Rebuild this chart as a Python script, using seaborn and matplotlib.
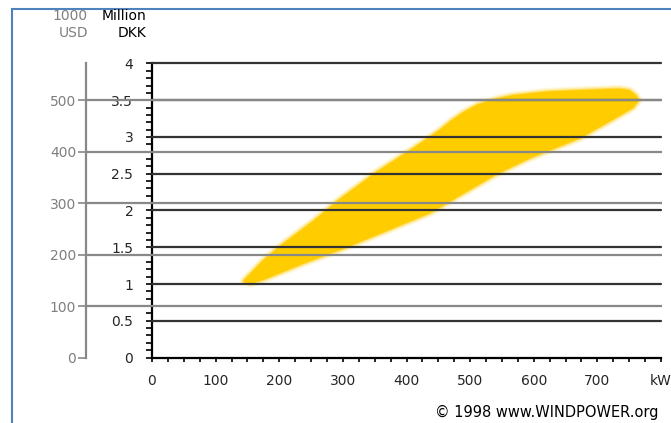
import numpy as np
import pandas as pd
import matplotlib
matplotlib.use("Agg")
import matplotlib.pyplot as plt
import seaborn as sns
from matplotlib.patches import Rectangle
from matplotlib.ticker import MultipleLocator

# outline of the price band (kW, million DKK)
kw_upper = [146, 175, 202, 228, 254, 274, 296, 354, 411, 440, 456, 470, 490, 511, 540, 567, 620, 672, 735, 750, 760]
dkk_upper = [1.04, 1.30, 1.50, 1.67, 1.84, 1.98, 2.14, 2.51, 2.83, 3.00, 3.10, 3.20, 3.32, 3.42, 3.50, 3.55, 3.60, 3.62, 3.64, 3.62, 3.55]
kw_lower = [763, 755, 719, 672, 594, 541, 436, 301, 236, 176, 155]
dkk_lower = [3.50, 3.41, 3.23, 3.00, 2.73, 2.51, 1.98, 1.50, 1.29, 1.08, 1.02]

# axes
kw_ticks = [0, 100, 200, 300, 400, 500, 600, 700, 800]
kw_labels = ["0", "100", "200", "300", "400", "500", "600", "700", "kW"]
dkk_ticks = [0, 0.5, 1, 1.5, 2, 2.5, 3, 3.5, 4]
dkk_labels = ["0", "0.5", "1", "1.5", "2", "2.5", "3", "3.5", "4"]
usd_ticks = [0, 100, 200, 300, 400, 500]
usd_per_dkk = 500 / 3.5   # 1000 USD per million DKK

YELLOW = "#FFCC00"
DARK = "#333333"
GREY = "#888888"
FS = 10

sns.set_style("white")
plt.rcParams["font.family"] = ["DejaVu Sans"]
plt.rcParams["font.size"] = FS

W, H = 671, 423
fig = plt.figure(figsize=(W / 100, H / 100), dpi=100)


def fx(px):
    return px / W


def fy(py):
    return 1 - py / H


bottom = fy(357.5)
height = fy(63.5) - bottom

# main axis: million DKK vs kW
ax = fig.add_axes([fx(152), bottom, fx(661) - fx(152), height])
ax.set_facecolor("none")
ax.set_xlim(0, 800)
ax.set_ylim(0, 4)

outline = pd.DataFrame({"kw": kw_upper + kw_lower, "dkk": dkk_upper + dkk_lower})
ax.fill(outline["kw"], outline["dkk"], color=YELLOW, lw=2, ec=YELLOW, zorder=2,
        joinstyle="round")
# soft edge
for lw, a in [(3.5, 0.45), (5.5, 0.25), (7.5, 0.12)]:
    sns.lineplot(data=outline, x="kw", y="dkk", sort=False, estimator=None, color=YELLOW,
                 lw=lw, alpha=a, ax=ax, zorder=1.9, solid_joinstyle="round",
                 solid_capstyle="round")

for v in dkk_ticks[1:]:
    ax.axhline(v, color=DARK, lw=1.6, zorder=3, clip_on=False)

ax.set_xticks(kw_ticks)
ax.set_xticklabels(kw_labels)
ax.set_yticks(dkk_ticks)
ax.set_yticklabels(dkk_labels)
ax.xaxis.set_minor_locator(MultipleLocator(25))
ax.yaxis.set_minor_locator(MultipleLocator(0.1))
ax.tick_params(axis="x", which="both", bottom=True, direction="out", length=3, width=1.2,
               color="black", pad=9, labelsize=FS)
ax.tick_params(axis="y", which="both", left=True, direction="out", length=4.5, width=1.2,
               color="black", pad=9, labelsize=FS)
for s in ["top", "right"]:
    ax.spines[s].set_visible(False)
for s in ["left", "bottom"]:
    ax.spines[s].set_color("black")
    ax.spines[s].set_linewidth(1.6)
ax.set_xlabel("")
ax.set_ylabel("")

# outer axis: 1000 USD, grey lines drawn across the plot
ax2 = fig.add_axes([fx(86), bottom, fx(662) - fx(86), height], zorder=2)
ax2.patch.set_visible(False)
ax2.set_xlim(0, 1)
ax2.set_ylim(0, 4 * usd_per_dkk)
for v in usd_ticks[1:]:
    ax2.axhline(v, color=GREY, lw=1.6)
ax2.set_yticks(usd_ticks)
ax2.set_xticks([])
ax2.tick_params(axis="y", left=True, direction="out", length=6, width=1.2, color=GREY,
                labelcolor="#7f7f7f", pad=1, labelsize=FS)
for s in ["top", "right", "bottom"]:
    ax2.spines[s].set_visible(False)
ax2.spines["left"].set_color(GREY)
ax2.spines["left"].set_linewidth(1.6)

# headers
fig.text(fx(88), fy(16), "1000", color="#7f7f7f", ha="right", va="center", fontsize=FS)
fig.text(fx(88), fy(33), "USD", color="#7f7f7f", ha="right", va="center", fontsize=FS)
fig.text(fx(146), fy(16), "Million", color="black", ha="right", va="center", fontsize=FS)
fig.text(fx(146), fy(33), "DKK", color="black", ha="right", va="center", fontsize=FS)
fig.text(fx(435), fy(412), "\u00a9 1998 www.WINDPOWER.org", color="black",
         ha="left", va="center", fontsize=10.5)

# blue frame (cut off at right and bottom)
fig.patches.append(Rectangle((fx(12), fy(440)), 1.0, fy(9) - fy(440),
                             transform=fig.transFigure, fill=False,
                             ec="#4F81BD", lw=1.5, clip_on=False))

fig.savefig("out.png", dpi=100)
